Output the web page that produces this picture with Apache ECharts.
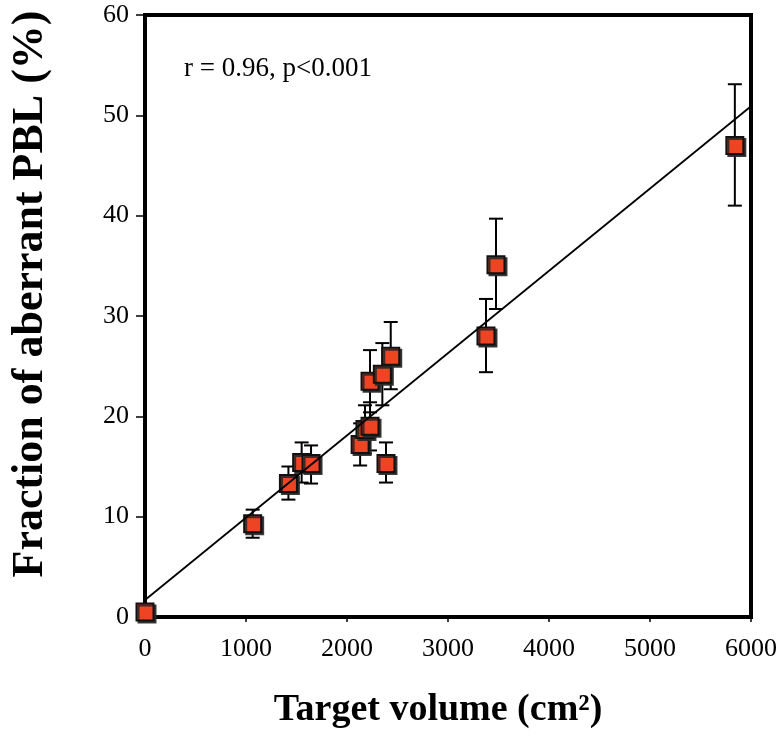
<!DOCTYPE html>
<html>
<head>
<meta charset="utf-8">
<script src="https://cdn.jsdelivr.net/npm/echarts@6/dist/echarts.min.js"></script>
<style>
  html, body { margin: 0; padding: 0; background: #fff; }
  #chart { width: 781px; height: 743px; }
</style>
</head>
<body>
<div id="chart"></div>
<script>
// target volume (cm2) and fraction of aberrant PBL (%)
const volume   = [0, 1066, 1420, 1551, 1644, 2130, 2178, 2228, 2228, 2350, 2433, 2386, 3376, 3475, 5840]
const fraction = [0.5, 9.3, 13.3, 15.4, 15.3, 17.2, 18.7, 19.0, 23.5, 24.2, 26.0, 15.3, 28.0, 35.1, 47.0]
// error bar ends
const upper = [0.5, 10.7, 15.0, 17.4, 17.1, 19.3, 21.1, 21.4, 26.6, 27.3, 29.4, 17.4, 31.7, 39.7, 53.1]
const lower = [0.5, 7.9, 11.7, 13.4, 13.3, 15.1, 16.3, 16.6, 20.4, 21.1, 22.7, 13.4, 24.4, 30.7, 41.0]
// regression line
const fitX = [0, 6000]
const fitY = [1.7, 50.9]
const xTicks = [0, 1000, 2000, 3000, 4000, 5000, 6000]
const yTicks = [0, 10, 20, 30, 40, 50, 60]

const serif = '"Liberation Serif", "DejaVu Serif", serif'

const chart = echarts.init(document.getElementById('chart'), null, { renderer: 'canvas' })

const errData = volume.map((v, i) => [v, lower[i], upper[i]])

const option = {
  backgroundColor: '#fff',
  animation: false,
  grid: {
    left: 145,
    right: 30,
    top: 15,
    bottom: 126,
    show: true,
    borderColor: '#000',
    borderWidth: 4
  },
  xAxis: {
    type: 'value',
    min: xTicks[0],
    max: xTicks[xTicks.length - 1],
    interval: 1000,
    name: 'Target volume (cm²)',
    nameLocation: 'middle',
    nameGap: 74,
    nameTextStyle: {
      fontFamily: serif,
      fontWeight: 'bold',
      fontSize: 38,
      color: '#000',
      padding: [0, 20, 0, 0]
    },
    splitLine: { show: false },
    axisLine: { show: false },
    axisTick: { show: true, length: 5, lineStyle: { color: '#000', width: 1.5 } },
    axisLabel: {
      fontFamily: serif, fontSize: 26, color: '#000', margin: 19,
      formatter: v => String(v)
    }
  },
  yAxis: {
    type: 'value',
    min: yTicks[0],
    max: yTicks[yTicks.length - 1],
    interval: 10,
    name: 'Fraction of aberrant PBL (%)',
    nameLocation: 'middle',
    nameGap: 92,
    nameTextStyle: {
      fontFamily: serif,
      fontWeight: 'bold',
      fontSize: 44,
      color: '#000',
      padding: [0, 0, 0, 44]
    },
    splitLine: { show: false },
    axisLine: { show: false },
    axisTick: { show: true, length: 9, lineStyle: { color: '#000', width: 1.5 } },
    axisLabel: { fontFamily: serif, fontSize: 26, color: '#000', margin: 16 }
  },
  graphic: [
    {
      type: 'text',
      left: 184,
      top: 55,
      style: {
        text: 'r = 0.96, p<0.001',
        fontFamily: serif,
        fontSize: 27,
        fill: '#000'
      }
    }
  ],
  series: [
    {
      type: 'custom',
      z: 1,
      data: errData,
      renderItem: (params, api) => {
        const x = api.value(0)
        const lo = api.value(1)
        const hi = api.value(2)
        if (hi === lo) return null
        const pLo = api.coord([x, lo])
        const pHi = api.coord([x, hi])
        const w = 7
        const style = { stroke: '#000', lineWidth: 2 }
        return {
          type: 'group',
          children: [
            { type: 'line', shape: { x1: pLo[0], y1: pLo[1], x2: pHi[0], y2: pHi[1] }, style },
            { type: 'line', shape: { x1: pHi[0] - w, y1: pHi[1], x2: pHi[0] + w, y2: pHi[1] }, style },
            { type: 'line', shape: { x1: pLo[0] - w, y1: pLo[1], x2: pLo[0] + w, y2: pLo[1] }, style }
          ]
        }
      }
    },
    {
      type: 'scatter',
      z: 2,
      symbol: 'rect',
      symbolSize: 17,
      itemStyle: {
        color: '#ee4424',
        borderColor: '#111',
        borderWidth: 2,
        shadowColor: 'rgba(40,40,40,0.9)',
        shadowBlur: 0,
        shadowOffsetX: 2,
        shadowOffsetY: 2,
        opacity: 1
      },
      emphasis: { disabled: true },
      data: volume.map((v, i) => [v, fraction[i]])
    },
    {
      type: 'line',
      z: 3,
      symbol: 'none',
      lineStyle: { color: '#000', width: 1.8 },
      data: fitX.map((v, i) => [v, fitY[i]])
    }
  ]
}

chart.setOption(option)
</script>
</body>
</html>
